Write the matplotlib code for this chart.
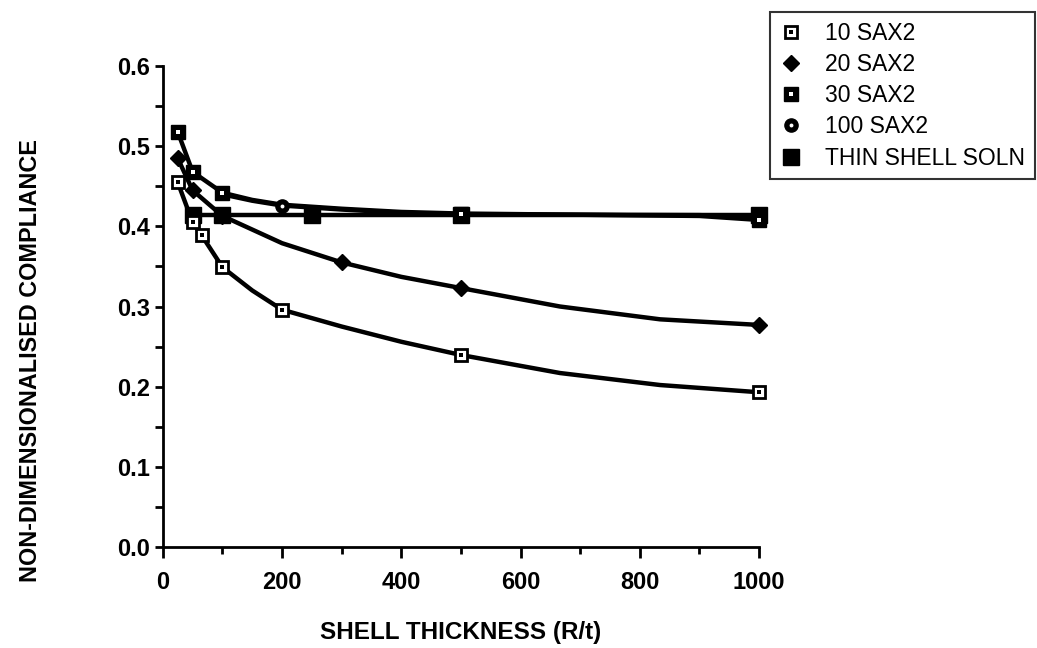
import matplotlib
matplotlib.use("Agg")
import matplotlib.pyplot as plt
from matplotlib.lines import Line2D
from matplotlib.ticker import MultipleLocator, FormatStrFormatter

plt.rcParams['font.family'] = ['Liberation Sans', 'DejaVu Sans']

# ---- data (markers) ----
sax10_x = [25, 50, 65, 100, 200, 500, 1000]
sax10_y = [0.455, 0.405, 0.389, 0.349, 0.296, 0.2395, 0.193]
sax20_x = [25, 50, 100, 300, 500, 1000]
sax20_y = [0.485, 0.445, 0.413, 0.355, 0.323, 0.277]
sax30_x = [25, 50, 100, 500, 1000]
sax30_y = [0.518, 0.468, 0.442, 0.416, 0.408]
sax100_x = [200]
sax100_y = [0.426]
thin_x = [50, 100, 250, 500, 1000]
thin_y = [0.414, 0.414, 0.414, 0.414, 0.414]

# ---- traced curve paths ----
sax10_line_x = [25, 50, 65, 100, 150, 200, 300, 400, 500, 666, 834, 1000]
sax10_line_y = [0.455, 0.405, 0.389, 0.349, 0.320, 0.296, 0.275, 0.256, 0.2395, 0.217, 0.202, 0.193]
sax20_line_x = [25, 50, 100, 200, 300, 400, 500, 666, 834, 1000]
sax20_line_y = [0.485, 0.445, 0.413, 0.379, 0.355, 0.337, 0.323, 0.300, 0.284, 0.277]
sax30_line_x = [25, 50, 100, 150, 200, 300, 400, 500, 900, 1000]
sax30_line_y = [0.518, 0.468, 0.442, 0.433, 0.427, 0.422, 0.418, 0.416, 0.413, 0.408]
sax100_line_x = [100, 150, 200, 300, 400, 500, 900, 1000]
sax100_line_y = [0.440, 0.432, 0.426, 0.421, 0.417, 0.415, 0.414, 0.412]

labels = ["10 SAX2", "20 SAX2", "30 SAX2", "100 SAX2", "THIN SHELL SOLN"]

fig = plt.figure(figsize=(10.37, 6.48), dpi=100)
ax = fig.add_axes([0.157, 0.156, 0.575, 0.742])

lw = 3.2
for lx, ly in [(sax10_line_x, sax10_line_y), (sax20_line_x, sax20_line_y),
               (sax30_line_x, sax30_line_y), (sax100_line_x, sax100_line_y),
               (thin_x, thin_y)]:
    ax.plot(lx, ly, color='black', lw=lw, zorder=2, solid_capstyle='butt')

# markers
mk = dict(ls='none', clip_on=False)
ax.plot(thin_x, thin_y, marker='s', ms=11, mfc='black', mec='black', zorder=3, **mk)
ax.plot(sax10_x, sax10_y, marker='s', ms=9, mfc='white', mec='black', mew=2, zorder=4, **mk)
ax.plot(sax10_x, sax10_y, marker='s', ms=2.2, mfc='black', mec='black', mew=0, zorder=5, **mk)
ax.plot(sax20_x, sax20_y, marker='D', ms=8, mfc='black', mec='black', zorder=4, **mk)
ax.plot(sax30_x, sax30_y, marker='s', ms=10, mfc='black', mec='black', zorder=4, **mk)
ax.plot(sax30_x, sax30_y, marker='s', ms=2.5, mfc='white', mec='white', mew=0, zorder=5, **mk)
ax.plot(sax100_x, sax100_y, marker='o', ms=9.5, mfc='black', mec='black', zorder=4, **mk)
ax.plot(sax100_x, sax100_y, marker='o', ms=2.8, mfc='white', mec='white', mew=0, zorder=5, **mk)

ax.set_xlim(0, 1000)
ax.set_ylim(0, 0.6)
ax.xaxis.set_major_locator(MultipleLocator(200))
ax.xaxis.set_minor_locator(MultipleLocator(100))
ax.yaxis.set_major_locator(MultipleLocator(0.1))
ax.yaxis.set_minor_locator(MultipleLocator(0.05))
ax.yaxis.set_major_formatter(FormatStrFormatter('%.1f'))

for s in ['top', 'right']:
    ax.spines[s].set_visible(False)
for s in ['left', 'bottom']:
    ax.spines[s].set_linewidth(2)
ax.tick_params(axis='both', which='major', direction='out', width=2, labelsize=17)
ax.tick_params(axis='y', which='major', length=6, pad=3)
ax.tick_params(axis='x', which='major', length=8, pad=9)
ax.tick_params(axis='y', which='minor', direction='out', length=6, width=2)
ax.tick_params(axis='x', which='minor', direction='out', length=5, width=2)
for t in ax.get_xticklabels() + ax.get_yticklabels():
    t.set_fontweight('bold')

ax.set_xlabel("SHELL THICKNESS (R/t)", fontsize=17.5, fontweight='bold', labelpad=20)
ax.set_ylabel("NON-DIMENSIONALISED COMPLIANCE", fontsize=16.8, fontweight='bold')
ax.yaxis.set_label_coords(-0.203, 0.387)

# legend
h10 = (Line2D([], [], ls='none', marker='s', ms=9, mfc='white', mec='black', mew=2),
       Line2D([], [], ls='none', marker='s', ms=2.2, mfc='black', mec='black', mew=0))
h20 = Line2D([], [], ls='none', marker='D', ms=8, mfc='black', mec='black')
h30 = (Line2D([], [], ls='none', marker='s', ms=10, mfc='black', mec='black'),
       Line2D([], [], ls='none', marker='s', ms=2.5, mfc='white', mec='white', mew=0))
h100 = (Line2D([], [], ls='none', marker='o', ms=9.5, mfc='black', mec='black'),
        Line2D([], [], ls='none', marker='o', ms=2.8, mfc='white', mec='white', mew=0))
hthin = Line2D([], [], ls='none', marker='s', ms=11, mfc='black', mec='black')

leg = fig.legend([h10, h20, h30, h100, hthin], labels,
                 loc='upper left', bbox_to_anchor=(770 / 1037, 1 - 12 / 648),
                 fontsize=16.5, frameon=True, fancybox=False, edgecolor='black',
                 borderpad=0.42, labelspacing=0.36, handlelength=1.0, handletextpad=1.0,
                 borderaxespad=0)
leg.get_frame().set_linewidth(1.5)

fig.savefig("out.png", dpi=100)
